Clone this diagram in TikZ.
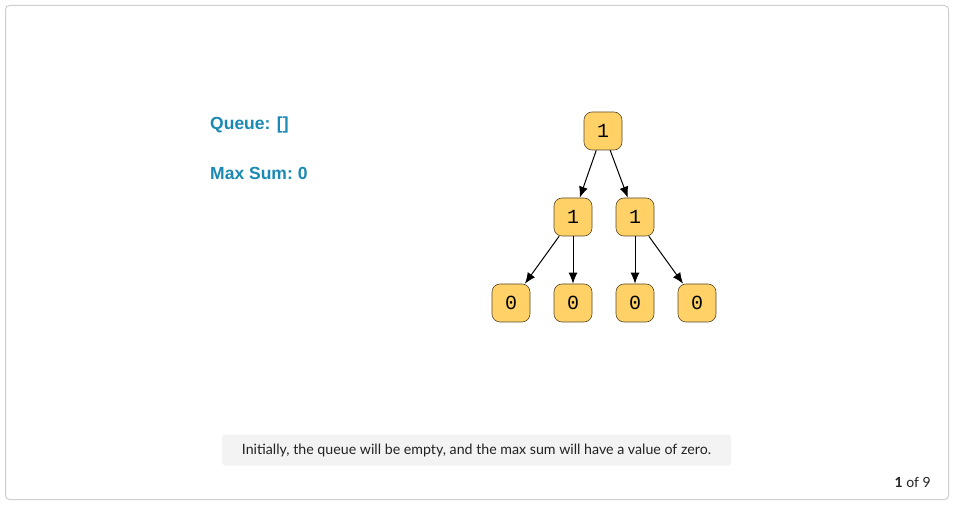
\documentclass[tikz,border=0pt]{standalone}
\usepackage{fontspec}
\setmainfont{Lato}
\newfontfamily\headfont{Liberation Sans}
\newfontfamily\monofont{Liberation Mono}
\usetikzlibrary{arrows.meta}
\definecolor{nodefill}{HTML}{FFD166}
\definecolor{nodeedge}{HTML}{5A4A2A}
\definecolor{headblue}{HTML}{1A8AB4}
\definecolor{framegray}{HTML}{CFCFCF}
\definecolor{capbg}{HTML}{F3F3F3}
\definecolor{captext}{HTML}{222222}
\tikzset{
  treenode/.style={draw=nodeedge, line width=0.6pt, fill=nodefill, rounded corners=8pt,
    minimum width=38pt, minimum height=38pt, inner sep=0pt,
    font=\monofont\fontsize{20pt}{20pt}\selectfont},
  edge/.style={-{Latex[length=11pt,width=9pt]}, line width=1pt, black},
  head/.style={anchor=base west, text=headblue, font=\headfont\bfseries\fontsize{17.5pt}{18pt}\selectfont, inner sep=0pt},
}
\begin{document}
\begin{tikzpicture}[x=1pt,y=-1pt]
\useasboundingbox (0,0) rectangle (954,505);
\fill[white] (0,0) rectangle (954,505);
\draw[framegray, line width=1pt, rounded corners=4pt] (5.5,5.5) rectangle (948.5,499.5);

\node[head] (queue) at (210,130) {Queue: []};
\node[head] (maxsum) at (210,180) {Max Sum:\hspace{-1.5pt} 0};

\node[treenode] (r) at (603,131) {1};
\node[treenode] (a) at (573,217) {1};
\node[treenode] (b) at (635,217) {1};
\node[treenode] (c) at (511,303) {0};
\node[treenode] (d) at (573,303) {0};
\node[treenode] (e) at (635,303) {0};
\node[treenode] (f) at (697,303) {0};

\draw[edge] (r) -- (a);
\draw[edge] (r) -- (b);
\draw[edge] (a) -- (c);
\draw[edge] (a) -- (d);
\draw[edge] (b) -- (e);
\draw[edge] (b) -- (f);

\node[fill=capbg, rounded corners=3pt, minimum width=509pt, minimum height=31pt, inner sep=0pt,
  text=captext, font=\fontsize{14.2pt}{14pt}\selectfont] (caption) at (476.5,450)
  {Initially, the queue will be empty, and the max sum will have a value of zero.};

\node[anchor=base east, inner sep=0pt, text=captext, font=\fontsize{14pt}{14pt}\selectfont] (page) at (931,487) {\textbf{1} of 9};
\end{tikzpicture}
\end{document}
